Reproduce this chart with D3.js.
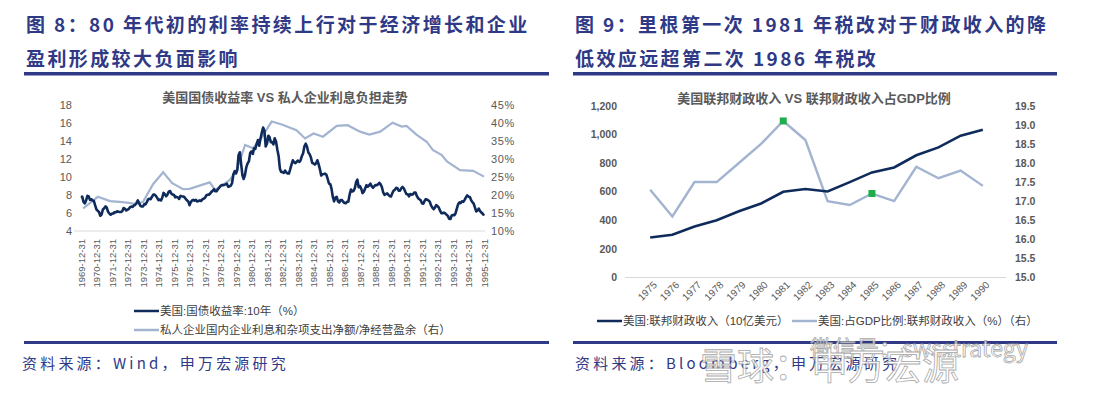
<!DOCTYPE html>
<html>
<head>
<meta charset="utf-8">
<script src="https://cdn.jsdelivr.net/npm/d3@7"></script>
<style>
  body { margin: 0; background: #fff; }
  svg { display: block; font-family: "Liberation Sans", Arial, "Noto Sans CJK SC", sans-serif; }
</style>
</head>
<body>
<div id="chart"></div>
<script>
// ---------- data: left chart ----------
// 10y treasury yield, monthly, starting 1969-12
var yieldStart = [1969, 11];
var yield10y = [
  7.88,
  7.79, 7.24, 7.07, 7.39, 7.91, 7.84, 7.46, 7.53, 7.39, 7.33, 6.84, 6.39,
  6.24, 6.11, 5.70, 5.83, 6.39, 6.52, 6.73, 6.58, 6.14, 5.93, 5.81, 5.93,
  5.95, 6.08, 6.07, 6.19, 6.13, 6.11, 6.11, 6.21, 6.55, 6.48, 6.28, 6.36,
  6.46, 6.64, 6.71, 6.67, 6.85, 6.90, 7.13, 7.40, 7.09, 6.79, 6.73, 6.74,
  6.99, 6.96, 7.21, 7.51, 7.58, 7.54, 7.81, 8.04, 8.04, 7.90, 7.68, 7.43,
  7.50, 7.39, 7.73, 8.23, 8.06, 7.86, 8.06, 8.40, 8.43, 8.14, 8.05, 8.00,
  7.74, 7.79, 7.73, 7.56, 7.90, 7.86, 7.83, 7.77, 7.59, 7.41, 7.29, 6.87,
  7.21, 7.39, 7.46, 7.37, 7.46, 7.28, 7.33, 7.40, 7.34, 7.52, 7.58, 7.69,
  7.96, 8.03, 8.04, 8.15, 8.35, 8.46, 8.64, 8.41, 8.42, 8.64, 8.81, 9.01,
  9.10, 9.10, 9.12, 9.18, 9.25, 8.91, 8.95, 9.03, 9.33, 10.30, 10.65, 10.39,
  10.80, 12.41, 12.75, 11.47, 10.18, 9.78, 10.25, 11.10, 11.51, 11.75, 12.68, 12.84,
  12.57, 13.19, 13.12, 13.68, 14.10, 13.47, 14.28, 14.94, 15.50, 15.15, 13.39, 13.72,
  14.59, 14.43, 13.86, 13.87, 13.62, 14.30, 13.95, 13.06, 12.34, 10.91, 10.55, 10.54,
  10.46, 10.72, 10.51, 10.40, 10.38, 10.85, 11.38, 11.85, 11.65, 11.54, 11.69, 11.83,
  11.67, 11.84, 12.32, 12.63, 13.41, 13.70, 13.36, 12.72, 12.52, 12.16, 11.57, 11.50,
  11.38, 11.51, 11.86, 11.43, 10.85, 10.16, 10.31, 10.33, 10.37, 10.24, 9.78, 9.26,
  9.19, 8.70, 7.78, 7.30, 7.71, 7.80, 7.30, 7.17, 7.45, 7.43, 7.25, 7.11,
  7.08, 7.25, 7.25, 8.02, 8.61, 8.40, 8.45, 8.76, 9.42, 9.70, 8.86, 8.99,
  8.67, 8.21, 8.37, 8.72, 9.09, 8.92, 9.06, 9.26, 8.98, 8.80, 8.96, 9.11,
  9.09, 9.17, 9.36, 9.18, 8.86, 8.28, 8.02, 8.11, 8.19, 8.01, 7.87, 7.84,
  8.21, 8.47, 8.59, 8.79, 8.76, 8.48, 8.47, 8.75, 8.89, 8.72, 8.39, 8.08,
  8.09, 7.85, 8.11, 8.04, 8.07, 8.28, 8.27, 7.90, 7.65, 7.53, 7.42, 7.09,
  7.03, 7.34, 7.54, 7.48, 7.39, 7.26, 6.84, 6.59, 6.42, 6.59, 6.87, 6.77,
  6.60, 6.26, 5.98, 5.97, 6.04, 5.96, 5.81, 5.68, 5.36, 5.33, 5.72, 5.77,
  5.75, 5.97, 6.48, 6.97, 7.18, 7.10, 7.30, 7.24, 7.46, 7.74, 7.96, 7.81,
  7.78, 7.47, 7.20, 7.06, 6.63, 6.17, 6.28, 6.49, 6.20, 6.04, 5.93, 5.71
];

// net interest / net operating surplus (right axis)
var burdenDates = [
  "1970-02-20", "1971-02-01", "1971-11-15", "1972-09-10", "1973-08-01", "1974-01-01",
  "1974-08-25", "1975-04-20", "1975-11-20", "1976-08-01", "1977-01-01", "1978-04-20",
  "1978-08-25", "1979-02-25", "1979-08-10", "1980-01-20", "1980-08-01", "1981-02-05",
  "1981-07-20", "1982-04-20", "1982-12-15", "1983-11-25", "1984-06-15", "1985-01-01",
  "1985-08-10", "1986-07-01", "1987-03-15", "1988-01-01", "1988-08-10", "1989-04-20",
  "1990-02-05", "1990-09-10", "1991-01-01", "1991-08-30", "1992-04-20", "1992-09-10",
  "1993-04-10", "1993-08-10", "1994-06-15", "1995-04-20", "1995-12-31"
];
var burdenPct = [
  16.3, 19.5, 18.3, 18.0, 17.5, 18.1,
  23.0, 26.3, 23.3, 21.6, 21.7, 23.5,
  21.4, 22.8, 24.2, 27.0, 33.9, 33.0,
  35.3, 40.4, 39.6, 38.0, 35.7, 37.1,
  36.2, 39.2, 39.4, 37.6, 36.8, 37.6,
  40.1, 39.0, 39.2, 36.7, 34.8, 32.5,
  31.1, 29.3, 26.9, 26.7, 25.1
];

var leftTicks = [4, 6, 8, 10, 12, 14, 16, 18];
var rightTicksL = [0.10, 0.15, 0.20, 0.25, 0.30, 0.35, 0.40, 0.45];

// ---------- data: right chart ----------
var years = ["1975", "1976", "1977", "1978", "1979", "1980", "1981", "1982",
             "1983", "1984", "1985", "1986", "1987", "1988", "1989", "1990"];
var revenue = [279, 298, 356, 400, 463, 517, 599, 618, 601, 666, 734, 769, 854, 909, 991, 1032];
var revenueGdp = [17.3, 16.6, 17.5, 17.5, 18.0, 18.5, 19.1, 18.6, 17.0, 16.9, 17.2, 17.0, 17.9, 17.6, 17.8, 17.4];
var markedYears = ["1981", "1985"];
var revTicks = [0, 200, 400, 600, 800, 1000, 1200];
var gdpTicks = [15, 15.5, 16, 16.5, 17, 17.5, 18, 18.5, 19, 19.5];

var navy = "#0f2b5b";
var lightBlue = "#a2b4cf";
var headBlue = "#2f3986";
var gray = "#595959";

var svg = d3.select("#chart")
  .append("svg")
  .attr("width", 1097)
  .attr("height", 393);

svg.append("rect").attr("width", 1097).attr("height", 393).attr("fill", "#fff");

// ---------- headings ----------
var headFont = "'Noto Sans CJK SC', sans-serif";
function heading(x, y, txt) {
  svg.append("text")
    .attr("x", x).attr("y", y)
    .attr("font-family", headFont)
    .attr("font-weight", 700)
    .attr("font-size", 19)
    .attr("letter-spacing", 2.4)
    .attr("fill", headBlue)
    .text(txt);
}
heading(26, 32, "图 8：80 年代初的利率持续上行对于经济增长和企业");
heading(26, 66, "盈利形成较大负面影响");
heading(575, 32, "图 9：里根第一次 1981 年税改对于财政收入的降");
heading(575, 66, "低效应远超第二次 1986 年税改");

svg.append("rect").attr("x", 24).attr("y", 72).attr("width", 525).attr("height", 3.5).attr("fill", headBlue);
svg.append("rect").attr("x", 573).attr("y", 72).attr("width", 484).attr("height", 3.5).attr("fill", headBlue);
svg.append("rect").attr("x", 24).attr("y", 341).attr("width", 525).attr("height", 3).attr("fill", headBlue);
svg.append("rect").attr("x", 573).attr("y", 341).attr("width", 484).attr("height", 3).attr("fill", headBlue);

function source(x, txt) {
  svg.append("text")
    .attr("x", x).attr("y", 369)
    .attr("font-family", headFont)
    .attr("font-size", 15)
    .attr("letter-spacing", 3.2)
    .attr("fill", headBlue)
    .text(txt);
}
source(22, "资料来源：Wind，申万宏源研究");
source(575, "资料来源：Bloomberg，申万宏源研究");

// ---------- left chart ----------
var parse = d3.timeParse("%Y-%m-%d");
var xL = d3.scaleTime()
  .domain([parse("1969-12-31"), parse("1995-12-31")])
  .range([81, 484]);
var yL = d3.scaleLinear().domain([4, 18]).range([231, 105]);
var yLR = d3.scaleLinear().domain([0.10, 0.45]).range([231, 105]);

var left = svg.append("g");

left.append("text")
  .attr("x", 285).attr("y", 102)
  .attr("text-anchor", "middle")
  .attr("font-size", 13).attr("font-weight", 700)
  .attr("fill", gray)
  .text("美国国债收益率 VS 私人企业利息负担走势");

left.append("line")
  .attr("x1", 74).attr("x2", 485)
  .attr("y1", yL(4)).attr("y2", yL(4))
  .attr("stroke", "#d9d9d9");

var axL = left.append("g")
  .attr("transform", "translate(75,0)")
  .call(d3.axisLeft(yL).tickValues(leftTicks).tickSize(0).tickPadding(3));
axL.select(".domain").remove();
axL.selectAll("text").attr("font-size", 11).attr("fill", gray).attr("font-family", "Liberation Sans, Arial");

var axLR = left.append("g")
  .attr("transform", "translate(489,0)")
  .call(d3.axisRight(yLR).tickValues(rightTicksL).tickSize(0).tickPadding(2).tickFormat(d3.format(".0%")));
axLR.select(".domain").remove();
axLR.selectAll("text").attr("font-size", 11).attr("fill", gray).attr("letter-spacing", 0.6);

var yearEnds = d3.range(1969, 1996).map(function(y) { return parse(y + "-12-31"); });
var axX = left.append("g")
  .attr("transform", "translate(0,236)")
  .call(d3.axisBottom(xL).tickValues(yearEnds).tickSize(0).tickPadding(0).tickFormat(d3.timeFormat("%Y-%m-%d")));
axX.select(".domain").remove();
axX.selectAll("text")
  .attr("font-size", 9.5)
  .attr("fill", gray)
  .attr("text-anchor", "end")
  .attr("dy", "0.35em")
  .attr("transform", "translate(0,3) rotate(-90)")
  .attr("x", 0).attr("y", 0);

var yieldData = yield10y.map(function(v, i) {
  var d = new Date(yieldStart[0], yieldStart[1] + i + 1, 0);
  return { date: d, value: v };
});
var burdenData = burdenDates.map(function(d, i) {
  return { date: parse(d), value: burdenPct[i] / 100 };
});

left.append("path")
  .datum(burdenData)
  .attr("fill", "none")
  .attr("stroke", lightBlue)
  .attr("stroke-width", 2.2)
  .attr("d", d3.line().x(function(d) { return xL(d.date); }).y(function(d) { return yLR(d.value); }));

left.append("path")
  .datum(yieldData)
  .attr("fill", "none")
  .attr("stroke", navy)
  .attr("stroke-width", 2.6)
  .attr("stroke-linejoin", "round")
  .attr("d", d3.line().x(function(d) { return xL(d.date); }).y(function(d) { return yL(d.value); }));

function legendItem(g, x, y, color, txt, size) {
  g.append("line").attr("x1", x).attr("x2", x + 25).attr("y1", y).attr("y2", y)
    .attr("stroke", color).attr("stroke-width", 2.5);
  g.append("text").attr("x", x + 26).attr("y", y).attr("dy", "0.35em")
    .attr("font-size", size).attr("fill", "#404040").text(txt);
}
legendItem(left, 134, 311, navy, "美国:国债收益率:10年（%）", 11.5);
legendItem(left, 134, 330, lightBlue, "私人企业国内企业利息和杂项支出净额/净经营盈余（右）", 11.5);

// ---------- right chart ----------
var xR = d3.scaleBand().domain(years).range([628, 1005]).paddingOuter(0.5).paddingInner(0);
var yRev = d3.scaleLinear().domain([0, 1200]).range([277.5, 105.7]);
var yGdp = d3.scaleLinear().domain([15, 19.5]).range([277.5, 105.7]);
function cx(d) { return xR(d) + xR.bandwidth() / 2; }

var right = svg.append("g");

right.append("text")
  .attr("x", 814).attr("y", 103)
  .attr("text-anchor", "middle")
  .attr("font-size", 13).attr("font-weight", 700)
  .attr("fill", gray)
  .text("美国联邦财政收入 VS 联邦财政收入占GDP比例");

right.append("line")
  .attr("x1", 625).attr("x2", 1006)
  .attr("y1", yRev(0)).attr("y2", yRev(0))
  .attr("stroke", "#d9d9d9");

var axR1 = right.append("g")
  .attr("transform", "translate(619,0)")
  .call(d3.axisLeft(yRev).tickValues(revTicks).tickSize(0).tickPadding(2).tickFormat(d3.format(",")));
axR1.select(".domain").remove();
axR1.selectAll("text").attr("font-size", 10.5).attr("font-weight", 700).attr("fill", gray);

var axR2 = right.append("g")
  .attr("transform", "translate(1013,0)")
  .call(d3.axisRight(yGdp).tickValues(gdpTicks).tickSize(0).tickPadding(2).tickFormat(d3.format(".1f")));
axR2.select(".domain").remove();
axR2.selectAll("text").attr("font-size", 10.5).attr("font-weight", 700).attr("fill", gray);

var axR3 = right.append("g")
  .attr("transform", "translate(0,280)")
  .call(d3.axisBottom(xR).tickSize(0).tickPadding(0));
axR3.select(".domain").remove();
axR3.selectAll("text")
  .attr("font-size", 10)
  .attr("fill", gray)
  .attr("text-anchor", "end")
  .attr("dy", "0.35em")
  .attr("transform", "translate(5,3) rotate(-45)")
  .attr("x", 0).attr("y", 0);

right.append("path")
  .datum(years)
  .attr("fill", "none")
  .attr("stroke", lightBlue)
  .attr("stroke-width", 2.4)
  .attr("d", d3.line().x(cx).y(function(d, i) { return yGdp(revenueGdp[i]); }));

right.append("path")
  .datum(years)
  .attr("fill", "none")
  .attr("stroke", navy)
  .attr("stroke-width", 2.6)
  .attr("d", d3.line().x(cx).y(function(d, i) { return yRev(revenue[i]); }));

right.selectAll("rect.mark")
  .data(markedYears)
  .enter()
  .append("rect")
  .attr("class", "mark")
  .attr("x", function(d) { return cx(d) - 3.5; })
  .attr("y", function(d) { return yGdp(revenueGdp[years.indexOf(d)]) - 3.5; })
  .attr("width", 7).attr("height", 7)
  .attr("fill", "#1fae4c");

legendItem(right, 597, 321, navy, "美国:联邦财政收入（10亿美元）", 11.5);
legendItem(right, 792, 321, lightBlue, "美国:占GDP比例:联邦财政收入（%）（右）", 11.5);

// ---------- watermark ----------
var wm = svg.append("g").attr("font-family", headFont).attr("fill", "#fff")
  .attr("stroke", "#9a9a9a").attr("stroke-width", 0.8).attr("opacity", 0.85);
wm.append("text").attr("x", 810).attr("y", 357).attr("font-size", 23).text("微信号：swsstrategy");
wm.append("text").attr("x", 700).attr("y", 380).attr("font-size", 37).attr("letter-spacing", 0).text("雪球：申万宏源");
</script>
</body>
</html>
